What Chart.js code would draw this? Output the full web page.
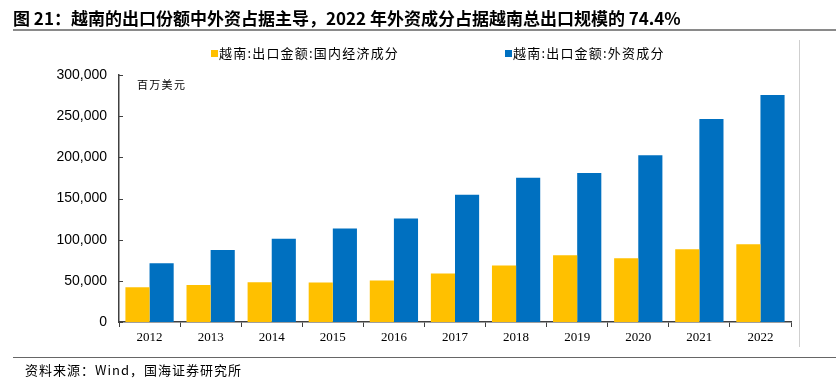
<!DOCTYPE html>
<html>
<head>
<meta charset="utf-8">
<script src="https://cdn.jsdelivr.net/npm/chart.js@4"></script>
<style>
  body { margin: 0; background: #fff; font-family: "Noto Sans CJK SC", sans-serif; }
  #wrap { position: relative; width: 836px; height: 390px; overflow: hidden; }
  #chart { position: absolute; left: 0; top: 0; }
  .abs { position: absolute; white-space: nowrap; }
  #title { left: 13px; top: 5px; font-size: 17px; font-weight: bold; color: #000; }
  #titleLine { left: 13px; top: 29px; width: 823px; height: 2px; background: #8a8a8a; }
  #rightLine { left: 799px; top: 40px; width: 1px; height: 307px; background: #cfcfcf; }
  #bottomLine { left: 13px; top: 357px; width: 823px; height: 1px; background: #666; }
  #footer { left: 25px; top: 360px; font-size: 13px; letter-spacing: 1px; color: #000; }
  #unit { left: 137px; top: 76px; font-size: 11px; letter-spacing: 1.3px; color: #000; }
  .leg { top: 43px; font-size: 13px; letter-spacing: 1.2px; color: #000; }
  .sw { display: inline-block; width: 7px; height: 7px; margin-right: 1px; vertical-align: 1px; }
</style>
</head>
<body>
<div id="wrap">
  <canvas id="chart" width="836" height="390"></canvas>
  <div class="abs" id="title">图 21：越南的出口份额中外资占据主导，2022 年外资成分占据越南总出口规模的 74.4%</div>
  <div class="abs" id="titleLine"></div>
  <div class="abs" id="rightLine"></div>
  <div class="abs leg" id="leg1" style="left:211px"><span class="sw" style="background:#FFC000"></span>越南:出口金额:国内经济成分</div>
  <div class="abs leg" id="leg2" style="left:505px"><span class="sw" style="background:#0070C0"></span>越南:出口金额:外资成分</div>
  <div class="abs" id="unit">百万美元</div>
  <div class="abs" id="bottomLine"></div>
  <div class="abs" id="footer">资料来源：Wind，国海证券研究所</div>
</div>
<script>
const years = ["2012", "2013", "2014", "2015", "2016", "2017", "2018", "2019", "2020", "2021", "2022"];
const domesticPart = [42200, 45000, 48300, 47900, 50400, 58900, 68600, 81100, 77500, 88400, 94500];
const foreignPart = [71400, 87600, 101000, 113600, 125800, 154500, 175200, 180900, 202400, 246600, 275700];
const yTicks = [0, 50000, 100000, 150000, 200000, 250000, 300000];

// y axis ticks point into the plot, so draw them by hand
const innerTicks = {
  id: "innerTicks",
  afterDraw(chart) {
    const ctx = chart.ctx;
    const y = chart.scales.y;
    const left = chart.chartArea.left;
    ctx.save();
    ctx.strokeStyle = "#404040";
    ctx.lineWidth = 1;
    yTicks.forEach(v => {
      const py = Math.round(y.getPixelForValue(v)) + 0.5;
      ctx.beginPath();
      ctx.moveTo(left, py);
      ctx.lineTo(left + 4, py);
      ctx.stroke();
    });
    ctx.restore();
  }
};

new Chart(document.getElementById("chart"), {
  type: "bar",
  data: {
    labels: years,
    datasets: [
      { label: "越南:出口金额:国内经济成分", data: domesticPart, backgroundColor: "#FFC000" },
      { label: "越南:出口金额:外资成分", data: foreignPart, backgroundColor: "#0070C0" }
    ]
  },
  options: {
    responsive: false,
    animation: false,
    layout: { padding: { left: 0, right: 45, top: 75, bottom: 48 } },
    datasets: { bar: { categoryPercentage: 0.79, barPercentage: 1.0 } },
    plugins: { legend: { display: false }, tooltip: { enabled: false } },
    scales: {
      x: {
        grid: { display: true, drawOnChartArea: false, tickLength: 5, color: "#404040" },
        border: { color: "#404040", width: 1.5 },
        ticks: { color: "#000", font: { family: "Liberation Serif", size: 13 }, padding: 3 },
        afterFit(scale) { scale.height = 20; }
      },
      y: {
        min: 0,
        max: 300000,
        afterBuildTicks(scale) { scale.ticks = yTicks.map(v => ({ value: v })); },
        grid: { display: false, drawTicks: false },
        border: { color: "#404040", width: 1.5 },
        ticks: {
          color: "#000",
          padding: 12,
          font: { family: "Liberation Sans", size: 14 },
          callback: v => v.toLocaleString("en-US")
        },
        afterFit(scale) { scale.width = 119; }
      }
    }
  },
  plugins: [innerTicks]
});
</script>
</body>
</html>
